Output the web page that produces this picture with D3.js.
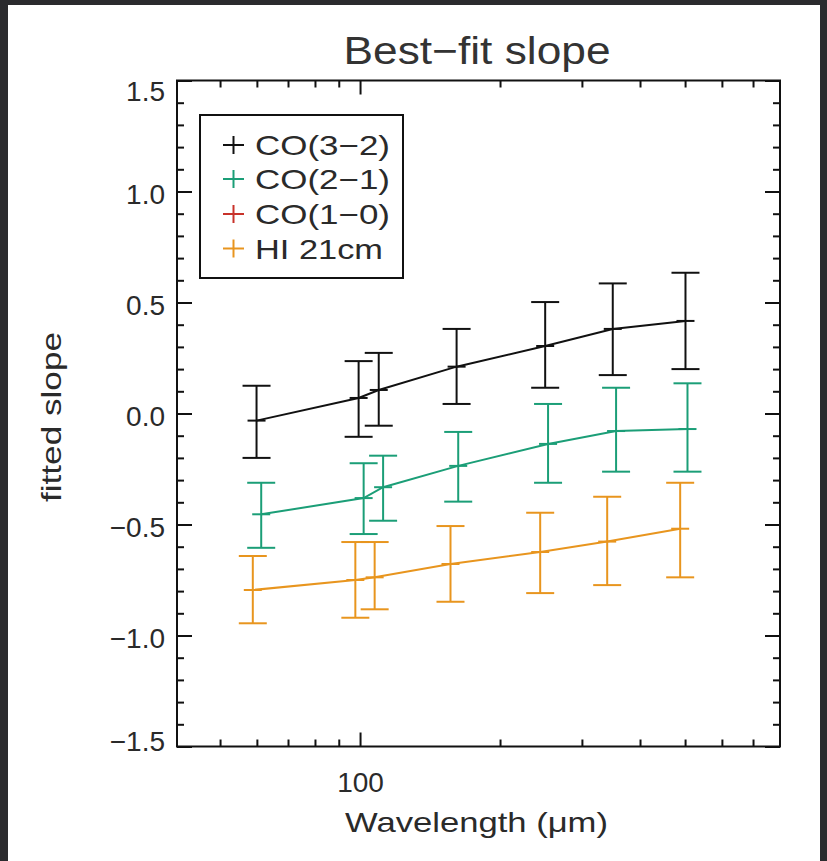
<!DOCTYPE html>
<html>
<head>
<meta charset="utf-8">
<script src="https://cdn.jsdelivr.net/npm/d3@7"></script>
<style>
  html, body { margin: 0; padding: 0; background: #ffffff; }
  svg { display: block; font-family: "Liberation Sans", Arial, sans-serif; }
</style>
</head>
<body>
<div class="chart-container"></div>
<script>
// Data.
const seriesNames = ["CO(3\u22122)", "CO(2\u22121)", "CO(1\u22120)", "HI 21cm"];
const seriesColors = ["#111111", "#1b9e77", "#c8322a", "#e8951e"];

// CO(3-2)
const co32Wave = [59.9, 99.3, 109.7, 161.3, 250.1, 349.5, 501];
const co32Slope = [-0.032, 0.070, 0.106, 0.211, 0.304, 0.381, 0.417];
const co32Hi = [0.125, 0.236, 0.273, 0.381, 0.502, 0.586, 0.634];
const co32Lo = [-0.200, -0.105, -0.055, 0.043, 0.116, 0.173, 0.200];

// CO(2-1)
const co21Wave = [61.3, 101.8, 112.1, 162.6, 253.7, 355.3, 506];
const co21Slope = [-0.454, -0.381, -0.332, -0.236, -0.137, -0.079, -0.070];
const co21Hi = [-0.312, -0.224, -0.190, -0.083, 0.043, 0.116, 0.136];
const co21Lo = [-0.605, -0.543, -0.483, -0.397, -0.312, -0.262, -0.262];

// CO(1-0): legend entry only, nothing plotted
const co10Wave = [];
const co10Slope = [];
const co10Hi = [];
const co10Lo = [];

// HI 21cm
const hiWave = [58.8, 97.7, 107.5, 156.5, 244, 340, 488];
const hiSlope = [-0.795, -0.750, -0.738, -0.678, -0.624, -0.577, -0.519];
const hiHi = [-0.642, -0.579, -0.579, -0.507, -0.447, -0.375, -0.312];
const hiLo = [-0.945, -0.920, -0.882, -0.848, -0.809, -0.773, -0.738];

// Ticks.
const yMajorTicks = [-1.5, -1.0, -0.5, 0.0, 0.5, 1.0, 1.5];
const yMinorTicks = d3.range(-15, 16).map((d) => d / 10);
const xMajorTicks = [100];
const xMinorTicks = [50, 60, 70, 80, 90, 200, 300, 400, 500, 600, 700];

function buildSeries(wave, slope, hi, lo) {
  return wave.map((w, i) => ({ w: w, v: slope[i], hi: hi[i], lo: lo[i] }));
}

const allSeries = [
  buildSeries(co32Wave, co32Slope, co32Hi, co32Lo),
  buildSeries(co21Wave, co21Slope, co21Hi, co21Lo),
  buildSeries(co10Wave, co10Slope, co10Hi, co10Lo),
  buildSeries(hiWave, hiSlope, hiHi, hiLo),
];

// Layout.
const W = 827, H = 861;
const plot = { left: 177, right: 780, top: 80.5, bottom: 746.5 };

const svg = d3
  .select(".chart-container")
  .append("svg")
  .attr("width", W)
  .attr("height", H);

// screenshot frame (dark edges)
svg.append("rect").attr("x", 0).attr("y", 0).attr("width", W).attr("height", H).attr("fill", "#2b2b2e");
svg.append("rect").attr("x", 8).attr("y", 5).attr("width", 812).attr("height", H - 5).attr("fill", "#ffffff");

// Scales.
const xScale = d3.scaleLog().domain([40.4, 800]).range([plot.left, plot.right]);
const yScale = d3.scaleLinear().domain([-1.5, 1.5]).range([plot.bottom, plot.top]);

const axisColor = "#111";
const textColor = "#2a2a2a";

// Axes: ticks point inward on all four sides.
function styleAxis(g) {
  g.select(".domain").remove();
  g.selectAll("line").attr("stroke", axisColor).attr("stroke-width", 2);
  g.selectAll("text").attr("fill", textColor);
}

// left
svg.append("g")
  .attr("transform", `translate(${plot.left},0)`)
  .call(d3.axisLeft(yScale).tickValues(yMinorTicks).tickSize(-7).tickFormat(""))
  .call(styleAxis);
const yLeft = svg.append("g")
  .attr("transform", `translate(${plot.left},0)`)
  .call(d3.axisLeft(yScale).tickValues(yMajorTicks).tickSize(-15).tickPadding(12)
    .tickFormat((d) => d3.format(".1f")(d).replace("-", "\u2212")))
  .call(styleAxis)
  .attr("font-size", 28)
  .attr("font-family", "'Liberation Sans', Arial, sans-serif");
yLeft.selectAll("text")
  .attr("dy", (d) => (d === 1.5 ? "0.72em" : d === -1.5 ? "0.13em" : "0.42em"));

// right
svg.append("g")
  .attr("transform", `translate(${plot.right},0)`)
  .call(d3.axisRight(yScale).tickValues(yMinorTicks).tickSize(-7).tickFormat(""))
  .call(styleAxis);
svg.append("g")
  .attr("transform", `translate(${plot.right},0)`)
  .call(d3.axisRight(yScale).tickValues(yMajorTicks).tickSize(-15).tickFormat(""))
  .call(styleAxis);

// bottom
svg.append("g")
  .attr("transform", `translate(0,${plot.bottom})`)
  .call(d3.axisBottom(xScale).tickValues(xMinorTicks).tickSize(-7).tickFormat(""))
  .call(styleAxis);
svg.append("g")
  .attr("transform", `translate(0,${plot.bottom})`)
  .call(d3.axisBottom(xScale).tickValues(xMajorTicks).tickSize(-14).tickPadding(26)
    .tickFormat(d3.format("d")))
  .call(styleAxis)
  .attr("font-size", 28)
  .attr("font-family", "'Liberation Sans', Arial, sans-serif");

// top
svg.append("g")
  .attr("transform", `translate(0,${plot.top})`)
  .call(d3.axisTop(xScale).tickValues(xMinorTicks).tickSize(-7).tickFormat(""))
  .call(styleAxis);
svg.append("g")
  .attr("transform", `translate(0,${plot.top})`)
  .call(d3.axisTop(xScale).tickValues(xMajorTicks).tickSize(-14).tickFormat(""))
  .call(styleAxis);

// Plot box.
svg.append("rect")
  .attr("x", plot.left)
  .attr("y", plot.top)
  .attr("width", plot.right - plot.left)
  .attr("height", plot.bottom - plot.top)
  .attr("fill", "none")
  .attr("stroke", axisColor)
  .attr("stroke-width", 2);

// Series: line, error bars, plus symbol.
const line = d3.line().x((d) => xScale(d.w)).y((d) => yScale(d.v));
const capHalf = 14;
const plusHalf = 9;

allSeries.forEach((data, si) => {
  const color = seriesColors[si];
  const g = svg.append("g").attr("class", "series");

  g.append("path")
    .datum(data)
    .attr("d", line)
    .attr("fill", "none")
    .attr("stroke", color)
    .attr("stroke-width", 2);

  const pts = g.selectAll(".pt").data(data).enter().append("g").attr("class", "pt");

  pts.append("line")
    .attr("x1", (d) => xScale(d.w)).attr("x2", (d) => xScale(d.w))
    .attr("y1", (d) => yScale(d.hi)).attr("y2", (d) => yScale(d.lo));
  pts.append("line")
    .attr("x1", (d) => xScale(d.w) - capHalf).attr("x2", (d) => xScale(d.w) + capHalf)
    .attr("y1", (d) => yScale(d.hi)).attr("y2", (d) => yScale(d.hi));
  pts.append("line")
    .attr("x1", (d) => xScale(d.w) - capHalf).attr("x2", (d) => xScale(d.w) + capHalf)
    .attr("y1", (d) => yScale(d.lo)).attr("y2", (d) => yScale(d.lo));
  pts.append("line")
    .attr("x1", (d) => xScale(d.w) - plusHalf).attr("x2", (d) => xScale(d.w) + plusHalf)
    .attr("y1", (d) => yScale(d.v)).attr("y2", (d) => yScale(d.v));

  pts.selectAll("line").attr("stroke", color).attr("stroke-width", 2);
});

// Legend.
const legend = svg.append("g").attr("class", "legend");
legend.append("rect")
  .attr("x", 200).attr("y", 115)
  .attr("width", 203).attr("height", 163)
  .attr("fill", "#fff")
  .attr("stroke", axisColor)
  .attr("stroke-width", 2);

const legendRows = [145, 179, 214, 248.5];
const legendWidths = [135, 135, 135, 128];
seriesNames.forEach((name, i) => {
  const cy = legendRows[i];
  legend.append("line")
    .attr("x1", 223).attr("x2", 244).attr("y1", cy).attr("y2", cy)
    .attr("stroke", seriesColors[i]).attr("stroke-width", 2);
  legend.append("line")
    .attr("x1", 233.5).attr("x2", 233.5).attr("y1", cy - 9).attr("y2", cy + 9)
    .attr("stroke", seriesColors[i]).attr("stroke-width", 2);
  legend.append("text")
    .attr("x", 255)
    .attr("y", cy)
    .attr("dy", "0.36em")
    .attr("font-size", 28)
    .attr("fill", textColor)
    .attr("textLength", legendWidths[i])
    .attr("lengthAdjust", "spacingAndGlyphs")
    .text(name);
});

// Title and axis labels.
svg.append("text")
  .attr("x", 477)
  .attr("y", 64)
  .attr("text-anchor", "middle")
  .attr("font-size", 38)
  .attr("fill", "#333")
  .attr("textLength", 267)
  .attr("lengthAdjust", "spacingAndGlyphs")
  .text("Best\u2212fit slope");

svg.append("text")
  .attr("x", 476.5)
  .attr("y", 832)
  .attr("text-anchor", "middle")
  .attr("font-size", 28)
  .attr("fill", textColor)
  .attr("textLength", 263)
  .attr("lengthAdjust", "spacingAndGlyphs")
  .text("Wavelength (\u03bcm)");

svg.append("text")
  .attr("transform", "translate(61,417) rotate(-90)")
  .attr("text-anchor", "middle")
  .attr("font-size", 28)
  .attr("fill", textColor)
  .attr("textLength", 170)
  .attr("lengthAdjust", "spacingAndGlyphs")
  .text("fitted slope");
</script>
</body>
</html>
